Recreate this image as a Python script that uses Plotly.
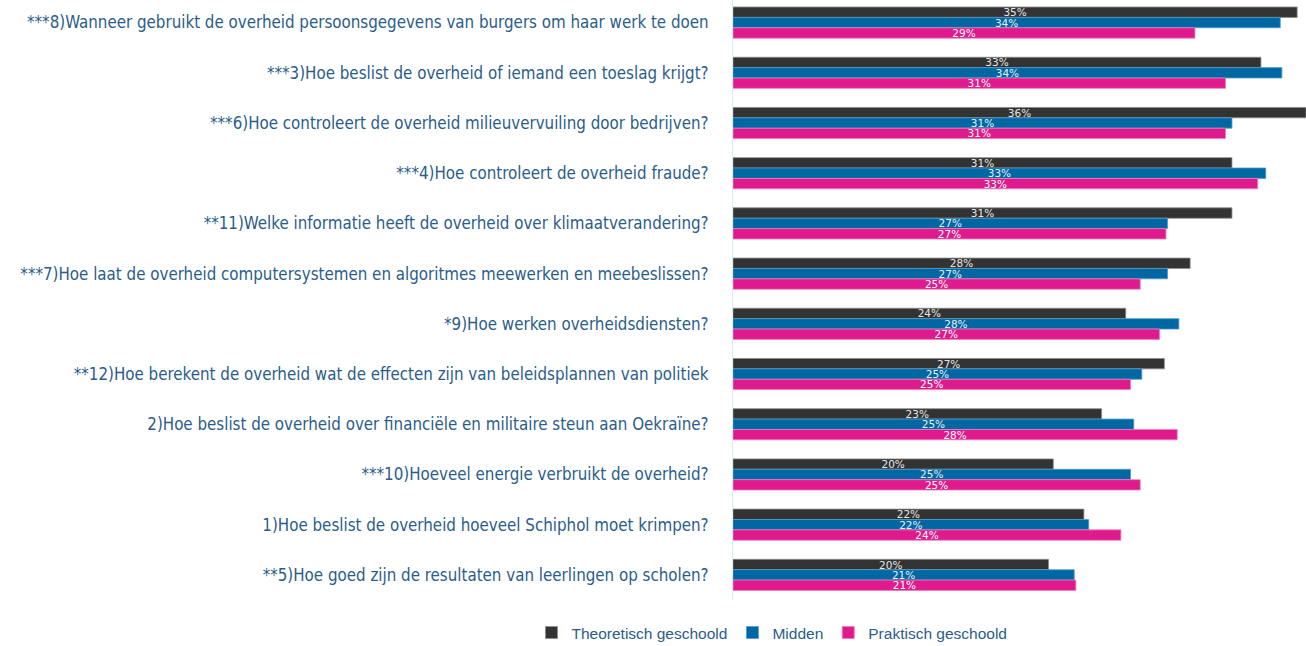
import plotly.graph_objects as go

categories = [
    "***8)Wanneer gebruikt de overheid persoonsgegevens van burgers om haar werk te doen",
    "***3)Hoe beslist de overheid of iemand een toeslag krijgt?",
    "***6)Hoe controleert de overheid milieuvervuiling door bedrijven?",
    "***4)Hoe controleert de overheid fraude?",
    "**11)Welke informatie heeft de overheid over klimaatverandering?",
    "***7)Hoe laat de overheid computersystemen en algoritmes meewerken en meebeslissen?",
    "*9)Hoe werken overheidsdiensten?",
    "**12)Hoe berekent de overheid wat de effecten zijn van beleidsplannen van politiek",
    "2)Hoe beslist de overheid over financiële en militaire steun aan Oekraïne?",
    "***10)Hoeveel energie verbruikt de overheid?",
    "1)Hoe beslist de overheid hoeveel Schiphol moet krimpen?",
    "**5)Hoe goed zijn de resultaten van leerlingen op scholen?",
]

theoretisch = [35.05, 32.8, 35.6, 31.0, 31.0, 28.4, 24.4, 26.8, 22.9, 19.9, 21.8, 19.6]
midden = [34.0, 34.1, 31.0, 33.1, 27.0, 27.0, 27.7, 25.4, 24.9, 24.7, 22.1, 21.2]
praktisch = [28.7, 30.6, 30.6, 32.6, 26.9, 25.3, 26.5, 24.7, 27.6, 25.3, 24.1, 21.3]

series = [
    ("Theoretisch geschoold", theoretisch, "#333333", "#8a8a8a", "#e6e6e6"),
    ("Midden", midden, "#0067a3", "#4f9acb", "#e4f1fb"),
    ("Praktisch geschoold", praktisch, "#df1a8c", "#ee7fbf", "#ffffff"),
]

fig = go.Figure()
for name, vals, color, outline, txtcol in series:
    fig.add_trace(go.Bar(
        name=name,
        y=categories,
        x=vals,
        orientation="h",
        marker=dict(color=color, line=dict(color=outline, width=0.8)),
        texttemplate="%{x:.0f}%",
        textposition="inside",
        insidetextanchor="middle",
        textangle=0,
        textfont=dict(family="DejaVu Sans", size=10.5, color=txtcol),
        constraintext="none",
    ))

fig.update_layout(
    width=1306,
    height=646,
    barmode="group",
    bargap=0.38,
    bargroupgap=0,
    plot_bgcolor="white",
    paper_bgcolor="white",
    margin=dict(l=733, r=0, t=0, b=46, pad=0, autoexpand=False),
    uniformtext=dict(mode=False),
    showlegend=True,
    legend=dict(
        orientation="h",
        xref="paper", yref="paper",
        x=0.068, y=-0.055,
        xanchor="center", yanchor="middle",
        font=dict(family="Liberation Sans", size=15.5, color="#2a5d8a"),
        traceorder="normal",
        bgcolor="rgba(0,0,0,0)",
        itemwidth=30,
    ),
)

fig.update_xaxes(
    range=[0, 35.6],
    showgrid=False,
    showticklabels=False,
    zeroline=False,
    showline=False,
    automargin=False,
)
fig.update_yaxes(
    categoryorder="array",
    categoryarray=categories,
    range=[11.5, -0.45],
    showgrid=False,
    showline=True,
    linecolor="#d6ecf7",
    linewidth=1,
    ticks="",
    ticklabelstandoff=20,
    automargin=False,
    tickfont=dict(family="DejaVu Sans Condensed, Liberation Sans Narrow", size=16.8, color="#2a5d8a"),
)

fig.write_html(
    "out.html",
    config={"displayModeBar": False},
    post_script="document.body.style.margin='0';document.body.style.overflow='hidden';",
)
